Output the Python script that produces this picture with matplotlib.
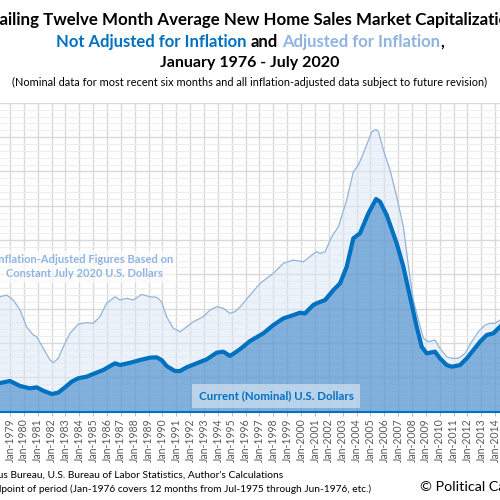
import matplotlib.pyplot as plt
from matplotlib.ticker import MultipleLocator

plt.rcParams['font.family'] = ['Lato', 'DejaVu Sans']

# trailing twelve month average market cap, nominal dollars
nominal_years = [1978.28, 1979.00, 1979.72, 1980.44, 1980.93, 1981.40, 1982.01, 1982.48, 1982.97,
                 1983.45, 1983.93, 1984.53, 1985.01, 1985.73, 1986.22, 1986.58, 1986.94, 1987.66,
                 1988.38, 1989.10, 1989.58, 1989.94, 1990.30, 1990.90, 1991.27, 1991.75, 1992.47,
                 1993.19, 1993.91, 1994.39, 1994.87, 1995.23, 1995.59, 1996.32, 1997.28, 1998.00,
                 1998.72, 1999.44, 1999.92, 2000.28, 2000.88, 2001.12, 2001.73, 2002.33, 2002.81,
                 2003.29, 2003.77, 2004.25, 2004.85, 2005.41, 2005.70, 2006.18, 2006.90, 2007.38,
                 2007.86, 2008.34, 2008.70, 2009.06, 2009.66, 2010.02, 2010.50, 2010.86, 2011.47,
                 2011.95, 2012.43, 2012.91, 2013.39, 2013.87, 2014.35]
nominal_values = [16.6, 17.8, 14.9, 13.5, 14.1, 12.1, 10.2, 11.0, 14.1,
                  17.4, 19.4, 20.3, 21.9, 24.2, 26.5, 28.1, 27.1, 28.4,
                  30.0, 31.4, 31.6, 30.0, 26.5, 23.6, 23.6, 25.8, 28.1,
                  30.4, 34.3, 34.9, 32.4, 34.3, 36.3, 41.1, 45.6, 50.4,
                  54.3, 56.2, 57.6, 57.2, 62.1, 63.1, 65.0, 70.8, 74.7,
                  84.4, 101.0, 103.9, 115.5, 123.9, 122.3, 114.5, 98.0, 84.4,
                  66.9, 49.4, 37.8, 33.9, 34.9, 31.0, 27.1, 26.1, 27.1,
                  31.0, 35.8, 40.7, 44.6, 45.6, 49.4]

# same, in constant July 2020 dollars
real_years = [1978.28, 1978.76, 1979.24, 1979.72, 1980.20, 1980.68, 1980.93, 1981.40, 1981.89,
              1982.12, 1982.48, 1982.85, 1983.33, 1983.93, 1984.53, 1985.01, 1985.49, 1985.97,
              1986.58, 1986.94, 1987.42, 1987.90, 1988.50, 1989.10, 1989.58, 1989.94, 1990.30,
              1990.78, 1991.27, 1991.75, 1992.22, 1992.95, 1993.43, 1993.91, 1994.39, 1994.87,
              1995.23, 1995.59, 1996.32, 1997.04, 1998.00, 1998.72, 1999.44, 2000.16, 2000.88,
              2001.12, 2001.37, 2001.73, 2002.21, 2002.69, 2003.29, 2003.77, 2004.13, 2004.49,
              2005.10, 2005.41, 2005.58, 2005.94, 2006.42, 2006.90, 2007.38, 2007.86, 2008.10,
              2008.34, 2008.82, 2009.18, 2009.66, 2010.02, 2010.50, 2010.86, 2011.34, 2011.83,
              2012.31, 2012.79, 2013.27, 2013.63, 2013.99, 2014.35]
real_values = [66.9, 67.9, 65.0, 59.2, 49.4, 44.6, 43.6, 36.8, 30.0,
               28.4, 31.0, 37.8, 45.6, 51.0, 51.8, 51.4, 55.3, 63.1,
               66.9, 65.0, 66.0, 65.0, 68.3, 66.9, 66.6, 64.0, 55.3,
               48.5, 46.5, 49.4, 52.3, 55.3, 59.2, 61.1, 60.2, 57.2,
               58.2, 60.9, 67.9, 74.7, 80.6, 86.4, 88.3, 87.3, 91.8,
               93.1, 92.2, 93.1, 101.9, 107.7, 123.3, 139.8, 143.7, 150.5,
               163.1, 164.5, 163.1, 152.4, 140.8, 125.2, 107.7, 77.8, 65.0,
               57.2, 42.7, 40.7, 41.7, 36.8, 31.9, 31.0, 31.0, 33.9,
               40.7, 46.5, 50.4, 51.4, 51.4, 53.3]

tick_years = list(range(1976, 2021))
tick_labels = [f'Jan-{y}' for y in tick_years]

dark_blue = '#0070C0'
light_blue = '#95B3D7'

fig = plt.figure(figsize=(5, 5), dpi=100)
ax = fig.add_axes([0, 0.177, 1, 0.6174])

# grid
ax.set_axisbelow(True)
ax.yaxis.set_major_locator(MultipleLocator(20))
ax.yaxis.set_minor_locator(MultipleLocator(4))
ax.grid(axis='y', which='major', color='#D9D9D9', lw=1.0)
ax.grid(axis='y', which='minor', color='#EEEEEE', lw=0.8)
ax.grid(axis='x', which='major', color='#D9D9D9', lw=1.0)

# series
ax.fill_between(real_years, real_values, color='#DBE7F5', alpha=0.5, lw=0, zorder=1)
ax.plot(real_years, real_values, color=light_blue, lw=0.9, zorder=2)
ax.fill_between(nominal_years, nominal_values, color='#196FC1', alpha=0.5, lw=0, zorder=3)
ax.plot(nominal_years, nominal_values, color=dark_blue, lw=3, zorder=4,
        solid_joinstyle='round')

ax.set_xticks(tick_years)
ax.set_xticklabels(tick_labels, rotation=90, fontsize=7.6, color='#595959')
ax.set_xlim(1978.28, 2014.35)
ax.set_ylim(0, 180)
ax.tick_params(axis='x', length=3, color='#BFBFBF', pad=2)
ax.tick_params(axis='y', which='both', left=False, labelleft=False)
for s in ['left', 'right', 'top']:
    ax.spines[s].set_visible(False)
ax.spines['bottom'].set_color(dark_blue)
ax.spines['bottom'].set_linewidth(1.5)
ax.spines['bottom'].set_zorder(5)

# annotations
ax.text(1984.34, 84.5, 'Inflation-Adjusted Figures Based on\nConstant July 2020 U.S. Dollars',
        ha='center', va='center', fontsize=8, fontweight='bold', color='#8EB4E3',
        linespacing=1.4, zorder=6,
        bbox=dict(boxstyle='square,pad=0.3', fc='white', ec='none', alpha=0.6))
ax.text(1998.19, 9.0, 'Current (Nominal) U.S. Dollars', ha='center', va='center',
        fontsize=8.3, fontweight='bold', color=dark_blue, zorder=6,
        bbox=dict(boxstyle='square,pad=0.6', fc='white', ec='none', alpha=0.45))

# titles
fig.text(0.5, 0.96, 'Trailing Twelve Month Average New Home Sales Market Capitalization',
         ha='center', va='center', fontsize=12.2, fontweight='bold', color='black')
fig.text(0.5, 0.874, 'January 1976 - July 2020', ha='center', va='center',
         fontsize=11.5, fontweight='bold', color='black')
fig.text(0.5, 0.836, '(Nominal data for most recent six months and all inflation-adjusted '
         'data subject to future revision)', ha='center', va='center', fontsize=7.9, color='black')

parts = [('Not Adjusted for Inflation', dark_blue, True),
         ('and', 'black', True),
         ('Adjusted for Inflation', '#8EB4E3', True),
         (',', 'black', False)]
size = 12
texts = [fig.text(0, 0.916, s, color=c, fontsize=size, fontweight='bold',
                  ha='left', va='center') for s, c, _ in parts]
fig.canvas.draw()
r = fig.canvas.get_renderer()
widths = [t.get_window_extent(r).width for t in texts]
gap = 0.26 * size * fig.dpi / 72
total = sum(widths) + gap * sum(1 for _, _, g in parts[1:] if g)
x = (fig.bbox.width - total) / 2
for i, (t, w) in enumerate(zip(texts, widths)):
    if i > 0 and parts[i][2]:
        x += gap
    t.set_x(x / fig.bbox.width)
    x += w

# footer
fig.text(0.566, 0.05, "Data Sources: U.S. Census Bureau, U.S. Bureau of Labor Statistics, "
         "Author's Calculations", ha='right', va='center', fontsize=7.4, color='black')
fig.text(0.742, 0.022, 'Notes: Data plotted at midpoint of period (Jan-1976 covers 12 months '
         'from Jul-1975 through Jun-1976, etc.)', ha='right', va='center', fontsize=7.3,
         color='black')
fig.text(0.84, 0.026, '\u00a9 Political Calculations', ha='left', va='center',
         fontsize=10.3, color='black')

fig.savefig('out.png', dpi=100)
